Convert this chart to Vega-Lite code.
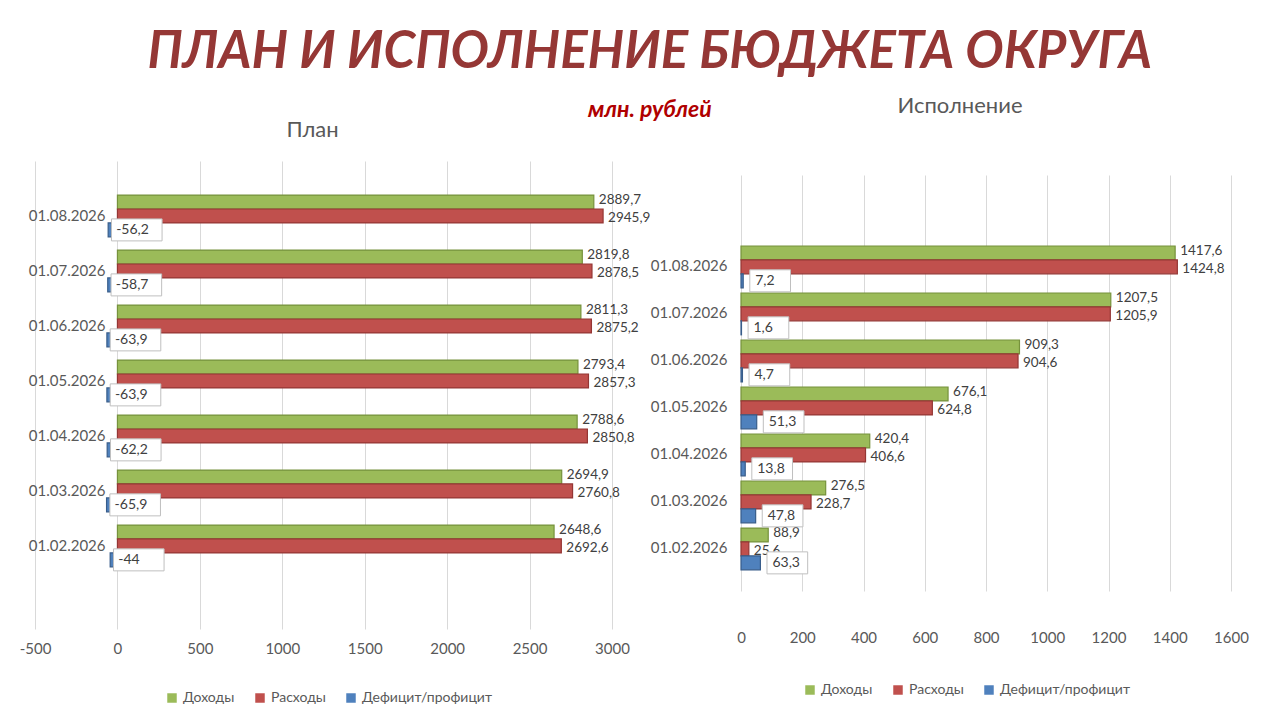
{
  "$schema": "https://vega.github.io/schema/vega-lite/v6.json",
  "background": "white",
  "bounds": "flush",
  "padding": {"left": 19, "top": 27, "right": 10, "bottom": 5},
  "title": {
    "text": "ПЛАН И ИСПОЛНЕНИЕ БЮДЖЕТА ОКРУГА",
    "subtitle": "млн. рублей",
    "font": "Lato",
    "fontSize": 51,
    "fontWeight": "bold",
    "fontStyle": "italic",
    "color": "#953735",
    "subtitleFont": "Lato",
    "subtitleFontSize": 23,
    "subtitleFontWeight": "bold",
    "subtitleFontStyle": "italic",
    "subtitleColor": "#b00000",
    "subtitlePadding": 20,
    "anchor": "middle",
    "dx": 16,
    "offset": -28
  },
  "config": {
    "locale": {"number": {"decimal": ",", "thousands": "", "grouping": [3], "currency": ["", ""], "minus": "-"}},
    "view": {"stroke": null},
    "font": "Lato",
    "axis": {"labelFont": "Lato", "labelFontSize": 15, "labelColor": "#595959", "domain": false, "ticks": false, "labelFlush": false},
    "legend": {"labelFont": "Lato", "labelFontSize": 14, "labelColor": "#595959", "symbolType": "square", "symbolSize": 90, "columnPadding": 18, "symbolStrokeWidth": 0},
    "title": {"font": "Lato", "fontSize": 22, "fontWeight": "normal", "color": "#595959"}
  },
  "datasets": {
    "plan": [
      {"date": "01.08.2026", "series": "Доходы", "value": 2889.7},
      {"date": "01.08.2026", "series": "Расходы", "value": 2945.9},
      {"date": "01.08.2026", "series": "Дефицит/профицит", "value": -56.2},
      {"date": "01.07.2026", "series": "Доходы", "value": 2819.8},
      {"date": "01.07.2026", "series": "Расходы", "value": 2878.5},
      {"date": "01.07.2026", "series": "Дефицит/профицит", "value": -58.7},
      {"date": "01.06.2026", "series": "Доходы", "value": 2811.3},
      {"date": "01.06.2026", "series": "Расходы", "value": 2875.2},
      {"date": "01.06.2026", "series": "Дефицит/профицит", "value": -63.9},
      {"date": "01.05.2026", "series": "Доходы", "value": 2793.4},
      {"date": "01.05.2026", "series": "Расходы", "value": 2857.3},
      {"date": "01.05.2026", "series": "Дефицит/профицит", "value": -63.9},
      {"date": "01.04.2026", "series": "Доходы", "value": 2788.6},
      {"date": "01.04.2026", "series": "Расходы", "value": 2850.8},
      {"date": "01.04.2026", "series": "Дефицит/профицит", "value": -62.2},
      {"date": "01.03.2026", "series": "Доходы", "value": 2694.9},
      {"date": "01.03.2026", "series": "Расходы", "value": 2760.8},
      {"date": "01.03.2026", "series": "Дефицит/профицит", "value": -65.9},
      {"date": "01.02.2026", "series": "Доходы", "value": 2648.6},
      {"date": "01.02.2026", "series": "Расходы", "value": 2692.6},
      {"date": "01.02.2026", "series": "Дефицит/профицит", "value": -44}
    ],
    "fact": [
      {"date": "01.08.2026", "series": "Доходы", "value": 1417.6},
      {"date": "01.08.2026", "series": "Расходы", "value": 1424.8},
      {"date": "01.08.2026", "series": "Дефицит/профицит", "value": 7.2},
      {"date": "01.07.2026", "series": "Доходы", "value": 1207.5},
      {"date": "01.07.2026", "series": "Расходы", "value": 1205.9},
      {"date": "01.07.2026", "series": "Дефицит/профицит", "value": 1.6},
      {"date": "01.06.2026", "series": "Доходы", "value": 909.3},
      {"date": "01.06.2026", "series": "Расходы", "value": 904.6},
      {"date": "01.06.2026", "series": "Дефицит/профицит", "value": 4.7},
      {"date": "01.05.2026", "series": "Доходы", "value": 676.1},
      {"date": "01.05.2026", "series": "Расходы", "value": 624.8},
      {"date": "01.05.2026", "series": "Дефицит/профицит", "value": 51.3},
      {"date": "01.04.2026", "series": "Доходы", "value": 420.4},
      {"date": "01.04.2026", "series": "Расходы", "value": 406.6},
      {"date": "01.04.2026", "series": "Дефицит/профицит", "value": 13.8},
      {"date": "01.03.2026", "series": "Доходы", "value": 276.5},
      {"date": "01.03.2026", "series": "Расходы", "value": 228.7},
      {"date": "01.03.2026", "series": "Дефицит/профицит", "value": 47.8},
      {"date": "01.02.2026", "series": "Доходы", "value": 88.9},
      {"date": "01.02.2026", "series": "Расходы", "value": 25.6},
      {"date": "01.02.2026", "series": "Дефицит/профицит", "value": 63.3}
    ]
  },
  "spacing": 129,
  "resolve": {"scale": {"color": "independent", "stroke": "independent"}, "legend": {"color": "independent"}},
  "hconcat": [
    {
      "title": {"text": "План", "offset": 19, "dx": -11},
      "width": 577,
      "height": 468,
      "data": {"name": "plan"},
      "encoding": {
        "y": {
          "field": "date", "type": "nominal", "sort": "descending", "title": null,
          "scale": {"paddingInner": 0.24, "paddingOuter": 0.875, "align": 0.354},
          "axis": {"offset": -74, "labelPadding": 4, "grid": false}
        },
        "yOffset": {"field": "series", "type": "nominal", "scale": {"domain": ["Доходы", "Расходы", "Дефицит/профицит"], "paddingInner": 0}},
        "x": {
          "field": "value", "type": "quantitative", "title": null,
          "scale": {"domain": [-500, 3000], "nice": false, "zero": false},
          "axis": {"values": [-500, 0, 500, 1000, 1500, 2000, 2500, 3000], "format": "d", "grid": true, "gridColor": "#d9d9d9", "labelPadding": 12}
        }
      },
      "layer": [
        {
          "mark": {"type": "bar", "strokeWidth": 1.2},
          "encoding": {
            "color": {
              "field": "series", "type": "nominal",
              "scale": {"domain": ["Доходы", "Расходы", "Дефицит/профицит"], "range": ["#9bbb59", "#c0504d", "#4f81bd"]},
              "legend": {"title": null, "orient": "none", "direction": "horizontal", "legendX": 130, "legendY": 530}
            },
            "stroke": {
              "field": "series", "type": "nominal", "legend": null,
              "scale": {"domain": ["Доходы", "Расходы", "Дефицит/профицит"], "range": ["#76923c", "#943634", "#385d8a"]}
            }
          }
        },
        {
          "transform": [{"filter": "datum.series === 'Доходы'"}],
          "mark": {"type": "text", "align": "left", "dx": 5, "dy": -2, "fontSize": 13.5, "color": "#404040"},
          "encoding": {"text": {"field": "value", "type": "quantitative", "format": ".1~f"}}
        },
        {
          "transform": [{"filter": "datum.series === 'Расходы'"}],
          "mark": {"type": "text", "align": "left", "dx": 5, "dy": 2, "fontSize": 13.5, "color": "#404040"},
          "encoding": {"text": {"field": "value", "type": "quantitative", "format": ".1~f"}}
        },
        {
          "transform": [{"filter": "datum.series === 'Дефицит/профицит'"}],
          "mark": {"type": "point", "shape": "M0.3,-1H4.9V1H0.3Z", "size": 484, "filled": true, "fill": "white", "stroke": "#bfbfbf", "strokeWidth": 1, "opacity": 1}
        },
        {
          "transform": [{"filter": "datum.series === 'Дефицит/профицит'"}],
          "mark": {"type": "text", "align": "left", "dx": 8, "fontSize": 14, "color": "#404040"},
          "encoding": {"text": {"field": "value", "type": "quantitative", "format": ".1~f"}}
        }
      ]
    },
    {
      "title": {"text": "Исполнение", "offset": 43, "dx": -26},
      "width": 490,
      "height": 460,
      "data": {"name": "fact"},
      "encoding": {
        "y": {
          "field": "date", "type": "nominal", "sort": "descending", "title": null,
          "scale": {"paddingInner": 0.15, "paddingOuter": 1, "align": 0.585, "range": [30, 446]},
          "axis": {"labelPadding": 14, "grid": false}
        },
        "yOffset": {"field": "series", "type": "nominal", "scale": {"domain": ["Доходы", "Расходы", "Дефицит/профицит"], "paddingInner": 0}},
        "x": {
          "field": "value", "type": "quantitative", "title": null,
          "scale": {"domain": [0, 1600], "nice": false},
          "axis": {"values": [0, 200, 400, 600, 800, 1000, 1200, 1400, 1600], "format": "d", "grid": true, "gridColor": "#d9d9d9", "labelPadding": 9}
        }
      },
      "layer": [
        {
          "mark": {"type": "bar", "strokeWidth": 1.2},
          "encoding": {
            "color": {
              "field": "series", "type": "nominal",
              "scale": {"domain": ["Доходы", "Расходы", "Дефицит/профицит"], "range": ["#9bbb59", "#c0504d", "#4f81bd"]},
              "legend": {"title": null, "orient": "none", "direction": "horizontal", "legendX": 62, "legendY": 522}
            },
            "stroke": {
              "field": "series", "type": "nominal", "legend": null,
              "scale": {"domain": ["Доходы", "Расходы", "Дефицит/профицит"], "range": ["#76923c", "#943634", "#385d8a"]}
            }
          }
        },
        {
          "transform": [{"filter": "datum.series === 'Доходы'"}],
          "mark": {"type": "text", "align": "left", "dx": 5, "dy": -2, "fontSize": 13.5, "color": "#404040"},
          "encoding": {"text": {"field": "value", "type": "quantitative", "format": ".1~f"}}
        },
        {
          "transform": [{"filter": "datum.series === 'Расходы'"}],
          "mark": {"type": "text", "align": "left", "dx": 5, "dy": 2, "fontSize": 13.5, "color": "#404040"},
          "encoding": {"text": {"field": "value", "type": "quantitative", "format": ".1~f"}}
        },
        {
          "transform": [{"filter": "datum.series === 'Дефицит/профицит'"}],
          "mark": {"type": "point", "shape": "M0.6,-1H4.3V1H0.6Z", "size": 484, "filled": true, "fill": "white", "stroke": "#bfbfbf", "strokeWidth": 1, "opacity": 1}
        },
        {
          "transform": [{"filter": "datum.series === 'Дефицит/профицит'"}],
          "mark": {"type": "text", "align": "left", "dx": 12, "fontSize": 14, "color": "#404040"},
          "encoding": {"text": {"field": "value", "type": "quantitative", "format": ".1~f"}}
        }
      ]
    }
  ]
}
